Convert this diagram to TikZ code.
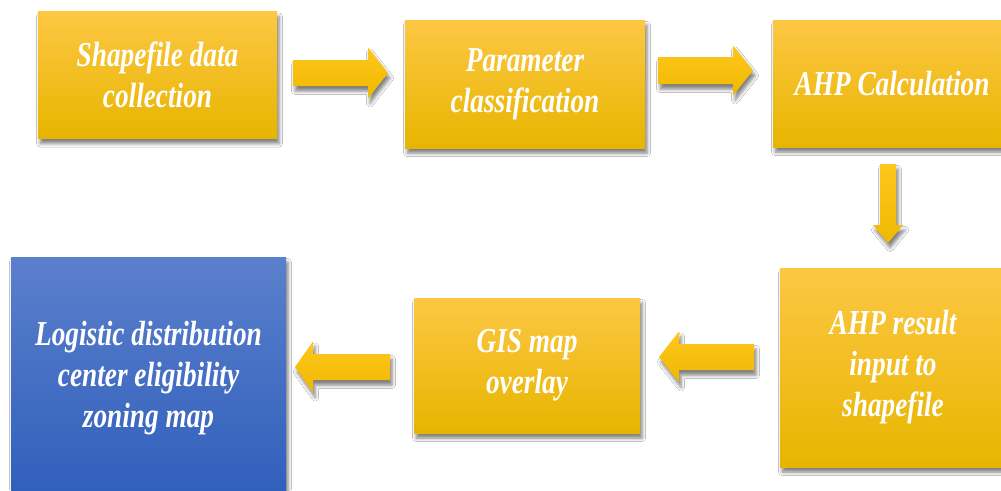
\documentclass[tikz,border=0pt]{standalone}
\usepackage{fontspec}
\newfontfamily\boxfont[FakeStretch=0.78]{Liberation Serif}
\usetikzlibrary{calc,shadows.blur}

\definecolor{ambTop}{HTML}{FDC743}
\definecolor{ambMid}{HTML}{FFC300}
\definecolor{ambBot}{HTML}{E7B500}
\definecolor{bluTop}{HTML}{5B80CC}
\definecolor{bluBot}{HTML}{2F5EBB}
\definecolor{arrTop}{HTML}{FFC61C}
\definecolor{arrBot}{HTML}{EFB900}

\tikzset{
  softshadow/.style={blur shadow={shadow xshift=2pt, shadow yshift=-5pt,
      shadow blur radius=3.5pt, shadow opacity=50}},
  stagebox/.style={rectangle, inner sep=0pt, softshadow,
      top color=ambTop, middle color=ambMid, bottom color=ambBot,
      text=white, align=center,
      font=\boxfont\bfseries\itshape\fontsize{35}{41}\selectfont},
  resultbox/.style={stagebox, top color=bluTop, middle color=bluTop!50!bluBot,
      bottom color=bluBot},
  flowarrow/.style={softshadow, top color=arrTop, bottom color=arrBot},
}

% block arrow: name, tail, tip, shaft half-width, head half-width, head length
\newcommand\blockarrow[6]{%
  \coordinate (#1-h) at ($(#3)!#6!(#2)$);
  \path[flowarrow]
    ($(#2)!#4!90:(#3)$) -- ($(#1-h)!#4!-90:(#2)$) -- ($(#1-h)!#5!-90:(#2)$)
    -- (#3) -- ($(#1-h)!#5!90:(#2)$) -- ($(#1-h)!#4!90:(#2)$)
    -- ($(#2)!#4!-90:(#3)$) -- cycle;
}

\begin{document}
\begin{tikzpicture}[x=1pt, y=-1pt]
  \fill[white] (0,0) rectangle (1001,490);
  \useasboundingbox (0,0) rectangle (1001,490);
  \begin{scope}
    \clip (0,0) rectangle (1001,490);

    % process stages
    \node[stagebox, minimum width=239pt, minimum height=127pt] (collect) at (157.5,75)
      {Shapefile data\\collection};
    \node[stagebox, minimum width=240pt, minimum height=128pt] (classify) at (525,84)
      {Parameter\\classification};
    \node[stagebox, minimum width=238pt, minimum height=127pt] (ahp) at (892,83.5)
      {AHP Calculation};
    \node[stagebox, minimum width=226pt, minimum height=199pt] (input) at (893,367.5)
      {AHP result\\input to\\shapefile};
    \node[stagebox, minimum width=226pt, minimum height=135pt] (overlay) at (527,365.5)
      {GIS map\\overlay};
    \node[resultbox, minimum width=275pt, minimum height=243pt] (zoning) at (148.5,378.5)
      {Logistic distribution\\center eligibility\\zoning map};

    % arrow ends
    \coordinate (a1t) at (293,73);   \coordinate (a1p) at (388,73);
    \coordinate (a2t) at (658,70.5); \coordinate (a2p) at (753,70.5);
    \coordinate (a3t) at (888,164);  \coordinate (a3p) at (888,243);
    \coordinate (a4t) at (754,357);  \coordinate (a4p) at (659,357);
    \coordinate (a5t) at (390,367);  \coordinate (a5p) at (295,367);

    \blockarrow{a1}{a1t}{a1p}{13pt}{25.5pt}{20pt}
    \blockarrow{a2}{a2t}{a2p}{13.5pt}{25pt}{20pt}
    \blockarrow{a3}{a3t}{a3p}{8pt}{15pt}{18pt}
    \blockarrow{a4}{a4t}{a4p}{13pt}{25.5pt}{20pt}
    \blockarrow{a5}{a5t}{a5p}{13pt}{25.5pt}{18pt}
  \end{scope}
\end{tikzpicture}
\end{document}
